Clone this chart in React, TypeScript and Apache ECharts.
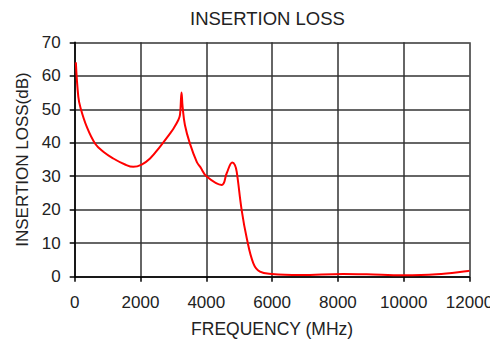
import React, { useEffect, useRef } from "react";
import * as echarts from "echarts";

const titleText = "INSERTION LOSS";
const xName = "FREQUENCY (MHz)";
const yName = "INSERTION LOSS(dB)";

const freqMHz = [
  35, 110, 180, 365, 617, 870, 1173, 1530, 1780, 2036, 2290, 2590, 2900, 3000,
  3150, 3200, 3247, 3280, 3350, 3500, 3710, 3815, 4013, 4470, 4620, 4790, 4870,
  4925, 5075, 5230, 5430, 5630, 5990, 6850, 8165, 8875, 9990, 11000, 11960, 12000,
];
const lossDb = [
  64, 53.7, 50.3, 44.8, 39.8, 37.3, 35.3, 33.5, 32.8, 33.5, 35.3, 38.8, 42.8, 44.2,
  46.8, 48.3, 55, 50.7, 45.3, 39.8, 34.3, 32.8, 29.9, 27.4, 30.9, 34.1, 33.3,
  31.3, 19.9, 11.5, 4, 1.5, 0.8, 0.5, 0.8, 0.7, 0.4, 0.7, 1.7, 1.8,
];

const FONT = "Liberation Sans, Arial, sans-serif";

export default function App() {
  const ref = useRef<HTMLDivElement>(null);
  useEffect(() => {
    if (!ref.current) return;
    const chart = echarts.init(ref.current, undefined, { renderer: "svg" });
    const data = freqMHz.map((f, i) => [f, lossDb[i]]);
    chart.setOption({
      animation: false,
      backgroundColor: "#ffffff",
      title: {
        text: titleText,
        left: 190,
        top: 9,
        padding: 0,
        textStyle: { fontFamily: FONT, fontSize: 18.5, fontWeight: "normal", color: "#222" },
      },
      grid: {
        left: 74.7,
        right: 20.5,
        top: 42.3,
        bottom: 62.3,
        containLabel: false,
        outerBoundsMode: "none",
      },
      xAxis: {
        type: "value",
        min: 0,
        max: 12000,
        interval: 2000,
        name: xName,
        nameLocation: "middle",
        nameGap: 43,
        nameTextStyle: { fontFamily: FONT, fontSize: 17.5, color: "#222" },
        axisLine: { show: true, onZero: false, lineStyle: { color: "#000", width: 1.5 } },
        axisTick: { show: true, inside: false, length: 5, lineStyle: { color: "#000", width: 1.5 } },
        axisLabel: {
          fontFamily: FONT,
          fontSize: 17,
          color: "#222",
          margin: 17,
          showMaxLabel: true,
          showMinLabel: true,
          hideOverlap: false,
          formatter: (v: number) => String(v),
        },
        splitLine: { show: true, lineStyle: { color: "#333", width: 1.5 } },
      },
      yAxis: {
        type: "value",
        min: 0,
        max: 70,
        interval: 10,
        name: yName,
        nameLocation: "middle",
        nameGap: 33,
        nameRotate: 90,
        nameTextStyle: { fontFamily: FONT, fontSize: 17, color: "#222" },
        axisLine: { show: true, lineStyle: { color: "#000", width: 1.5 } },
        axisTick: { show: true, inside: false, length: 5, lineStyle: { color: "#000", width: 1.5 } },
        axisLabel: { fontFamily: FONT, fontSize: 17, color: "#222", margin: 14, formatter: (v: number) => String(v) },
        splitLine: { show: true, lineStyle: { color: "#333", width: 1.5 } },
      },
      series: [
        {
          type: "line",
          data,
          showSymbol: false,
          smooth: 0.4,
          lineStyle: { color: "#ff0000", width: 2 },
          z: 5,
        },
      ],
    });
    return () => chart.dispose();
  }, []);
  return <div ref={ref} style={{ width: 490, height: 339, position: "absolute", left: 0, top: 0 }} />;
}
